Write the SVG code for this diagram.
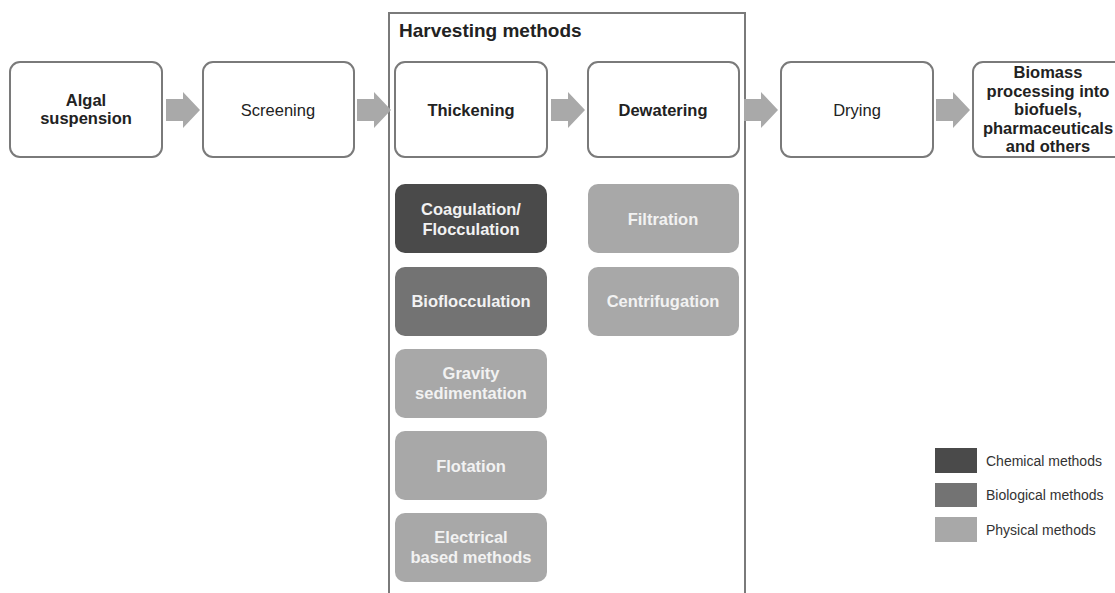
<svg xmlns="http://www.w3.org/2000/svg" width="1115" height="593" viewBox="0 0 1115 593">
<defs>
<style>
.step{fill:#fff;stroke:#7a7a7a;stroke-width:2}
.t{font-family:"Liberation Sans",Arial,sans-serif;font-size:16.5px;fill:#222;text-anchor:middle}
.b{font-weight:bold}
.m{font-family:"Liberation Sans",Arial,sans-serif;font-size:16.5px;font-weight:bold;fill:#f2f2f2;text-anchor:middle}
.chem{fill:#4a4a4a}
.bio{fill:#737373}
.phys{fill:#a8a8a8}
.arrow{fill:#a9a9a9}
.lg{font-family:"Liberation Sans",Arial,sans-serif;font-size:14px;fill:#333}
</style>
<path id="arr" d="M0,-11 H17 V-18 L34,0 L17,18 V11 H0 Z"/>
</defs>
<rect width="1115" height="593" fill="#fff"/>
<g id="harvesting-frame">
<rect x="389" y="13" width="356" height="590" fill="none" stroke="#7a7a7a" stroke-width="2"/>
<text x="399" y="37" font-family="Liberation Sans,Arial,sans-serif" font-size="19" font-weight="bold" fill="#222">Harvesting methods</text>
</g>
<g id="connectors" class="arrow">
<use href="#arr" x="166" y="110"/>
<use href="#arr" x="357" y="110"/>
<use href="#arr" x="551" y="110"/>
<use href="#arr" x="744" y="110"/>
<use href="#arr" x="936" y="110"/>
</g>
<g id="algal"><rect class="step" x="10" y="62" width="152" height="95" rx="10"/>
<text class="t b" x="86" y="106">Algal</text><text class="t b" x="86" y="124">suspension</text></g>
<g id="screening"><rect class="step" x="203" y="62" width="151" height="95" rx="10"/>
<text class="t" x="278" y="116">Screening</text></g>
<g id="thickening"><rect class="step" x="395" y="62" width="152" height="95" rx="10"/>
<text class="t b" x="471" y="116">Thickening</text></g>
<g id="dewatering"><rect class="step" x="588" y="62" width="151" height="95" rx="10"/>
<text class="t b" x="663" y="116">Dewatering</text></g>
<g id="drying"><rect class="step" x="781" y="62" width="152" height="95" rx="10"/>
<text class="t" x="857" y="116">Drying</text></g>
<g id="biomass"><rect class="step" x="973" y="62" width="155" height="95" rx="10"/>
<text class="t b" x="1048" y="78">Biomass</text>
<text class="t b" x="1048" y="96.5">processing into</text>
<text class="t b" x="1048" y="115">biofuels,</text>
<text class="t b" x="1048" y="133.5">pharmaceuticals</text>
<text class="t b" x="1048" y="152">and others</text></g>
<g id="coagulation"><rect class="chem" x="395" y="184" width="152" height="69" rx="10"/>
<text class="m" x="471" y="215">Coagulation/</text><text class="m" x="471" y="235">Flocculation</text></g>
<g id="bioflocculation"><rect class="bio" x="395" y="267" width="152" height="69" rx="10"/>
<text class="m" x="471" y="307">Bioflocculation</text></g>
<g id="gravity"><rect class="phys" x="395" y="349" width="152" height="69" rx="10"/>
<text class="m" x="471" y="379">Gravity</text><text class="m" x="471" y="399">sedimentation</text></g>
<g id="flotation"><rect class="phys" x="395" y="431" width="152" height="69" rx="10"/>
<text class="m" x="471" y="472">Flotation</text></g>
<g id="electrical"><rect class="phys" x="395" y="513" width="152" height="69" rx="10"/>
<text class="m" x="471" y="543">Electrical</text><text class="m" x="471" y="563">based methods</text></g>
<g id="filtration"><rect class="phys" x="588" y="184" width="151" height="69" rx="10"/>
<text class="m" x="663" y="225">Filtration</text></g>
<g id="centrifugation"><rect class="phys" x="588" y="267" width="151" height="69" rx="10"/>
<text class="m" x="663" y="307">Centrifugation</text></g>
<g id="legend">
<rect class="chem" x="935" y="448" width="42" height="25"/>
<text class="lg" x="986" y="466">Chemical methods</text>
<rect class="bio" x="935" y="483" width="42" height="24"/>
<text class="lg" x="986" y="500">Biological methods</text>
<rect class="phys" x="935" y="517" width="42" height="25"/>
<text class="lg" x="986" y="535">Physical methods</text>
</g>
</svg>
